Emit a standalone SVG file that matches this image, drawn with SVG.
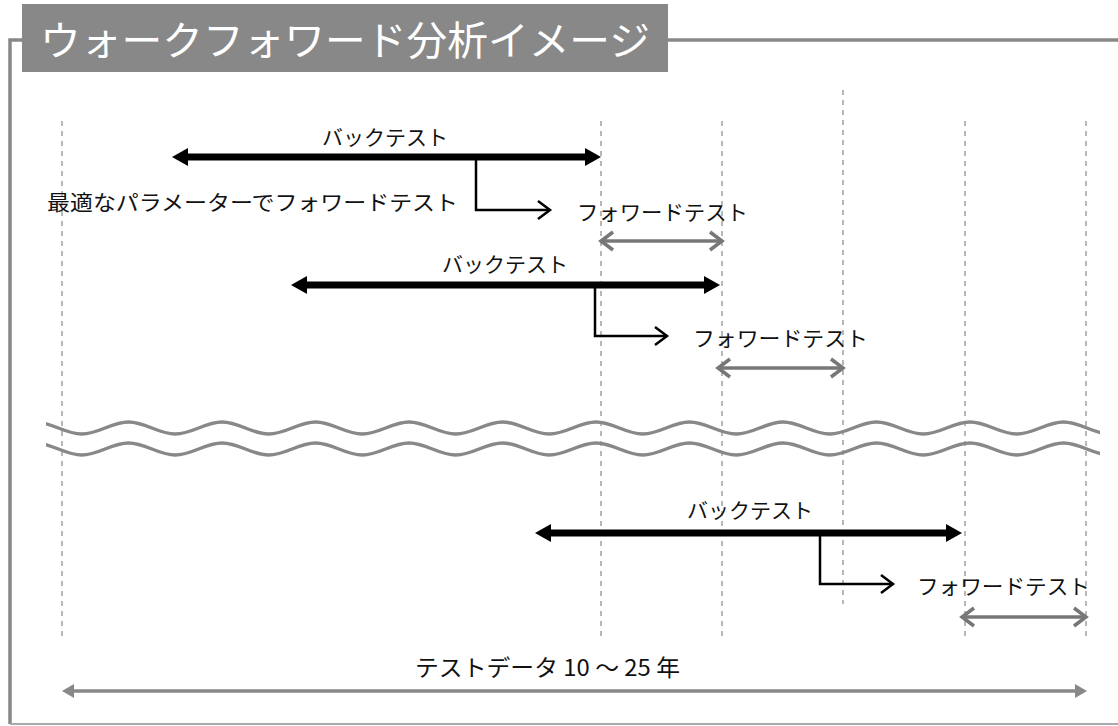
<svg xmlns="http://www.w3.org/2000/svg" width="1118" height="726" viewBox="0 0 1118 726">
<style>
.lbl{font-family:"Noto Sans CJK JP","Noto Sans",sans-serif;font-size:21px;fill:#111;}
.title{font-family:"Noto Sans CJK JP","Noto Sans",sans-serif;font-size:40px;fill:#fff;}
.grid{stroke:#a0a0a0;stroke-width:1.5;stroke-dasharray:5 5;fill:none;}
.bt{stroke:#000;stroke-width:7;fill:none;marker-start:url(#btHead);marker-end:url(#btHead);}
.fw{stroke:#777;stroke-width:3.5;fill:none;marker-start:url(#fwHead);marker-end:url(#fwHead);}
.elbow{stroke:#000;stroke-width:2.5;fill:none;marker-end:url(#elHead);}
.wave{stroke:#888;stroke-width:3.5;fill:none;}
.frame{stroke:#888;stroke-width:3.5;fill:none;}
</style>
<defs>
<marker id="btHead" markerUnits="userSpaceOnUse" markerWidth="16" markerHeight="18" refX="5" refY="9" orient="auto-start-reverse" overflow="visible">
<path d="M0,0 L16,9 L0,18 z" fill="#000"/>
</marker>
<marker id="fwHead" markerUnits="userSpaceOnUse" markerWidth="14" markerHeight="20" refX="12" refY="9" orient="auto-start-reverse" overflow="visible">
<path d="M0,0 L12,9 L0,18" fill="none" stroke="#777" stroke-width="3.5"/>
</marker>
<marker id="elHead" markerUnits="userSpaceOnUse" markerWidth="14" markerHeight="20" refX="12" refY="9" orient="auto" overflow="visible">
<path d="M0,0 L12,9 L0,18" fill="none" stroke="#000" stroke-width="2.5"/>
</marker>
<marker id="bigHead" markerUnits="userSpaceOnUse" markerWidth="12" markerHeight="14" refX="4" refY="7" orient="auto-start-reverse" overflow="visible">
<path d="M0,0 L12,7 L0,14 z" fill="#888"/>
</marker>
<clipPath id="waveClip"><rect x="46" y="400" width="1054" height="70"/></clipPath>
<path id="wavePath" d="M35,422 C52,422 64.75,434 81.75,434 S111.5,422 128.5,422 S158.25,434 175.25,434 S205,422 222,422 S251.75,434 268.75,434 S298.5,422 315.5,422 S345.25,434 362.25,434 S392,422 409,422 S438.75,434 455.75,434 S485.5,422 502.5,422 S532.25,434 549.25,434 S579,422 596,422 S625.75,434 642.75,434 S672.5,422 689.5,422 S719.25,434 736.25,434 S766,422 783,422 S812.75,434 829.75,434 S859.5,422 876.5,422 S906.25,434 923.25,434 S953,422 970,422 S999.75,434 1016.75,434 S1046.5,422 1063.5,422 S1093.25,434 1110.25,434"/>
</defs>

<g id="frame">
<path class="frame" d="M10,724 L10,40 L22,40"/>
<path class="frame" d="M668,40 L1118,40"/>
<line x1="10" y1="724" x2="1118" y2="724" stroke="#aaa" stroke-width="2"/>
</g>

<g id="title">
<rect x="22" y="4" width="646" height="68" fill="#888"/>
<text class="title" x="40" y="55" textLength="610" lengthAdjust="spacingAndGlyphs">ウォークフォワード分析イメージ</text>
</g>

<g id="grid">
<line class="grid" x1="62" y1="121" x2="62" y2="636"/>
<line class="grid" x1="601" y1="121" x2="601" y2="636"/>
<line class="grid" x1="722" y1="121" x2="722" y2="636"/>
<line class="grid" x1="843" y1="90" x2="843" y2="604"/>
<line class="grid" x1="965" y1="121" x2="965" y2="636"/>
<line class="grid" x1="1086" y1="121" x2="1086" y2="636"/>
</g>

<g id="waves" clip-path="url(#waveClip)">
<use href="#wavePath" class="wave"/>
<use href="#wavePath" class="wave" transform="translate(0,21)"/>
</g>

<g id="connectors">
<line class="bt" x1="183" y1="157" x2="590" y2="157"/>
<line class="bt" x1="302" y1="285" x2="709" y2="285"/>
<line class="bt" x1="546" y1="533" x2="951" y2="533"/>
<path class="elbow" d="M476,160 L476,210 L550,210"/>
<path class="elbow" d="M595,288 L595,336 L667,336"/>
<path class="elbow" d="M820,536 L820,584 L893,584"/>
<line class="fw" x1="601" y1="241" x2="722" y2="241"/>
<line class="fw" x1="718" y1="368" x2="843" y2="368"/>
<line class="fw" x1="962" y1="617" x2="1086" y2="617"/>
<line x1="70" y1="691" x2="1079" y2="691" stroke="#888" stroke-width="3.5" marker-start="url(#bigHead)" marker-end="url(#bigHead)"/>
</g>

<g id="labels">
<text class="lbl" x="385" y="145" text-anchor="middle" textLength="126" lengthAdjust="spacingAndGlyphs">バックテスト</text>
<text class="lbl" x="505" y="272" text-anchor="middle" textLength="126" lengthAdjust="spacingAndGlyphs">バックテスト</text>
<text class="lbl" x="750" y="518" text-anchor="middle" textLength="126" lengthAdjust="spacingAndGlyphs">バックテスト</text>
<text class="lbl" x="47" y="210" textLength="411" lengthAdjust="spacingAndGlyphs">最適なパラメーターでフォワードテスト</text>
<text class="lbl" x="577" y="220" textLength="171" lengthAdjust="spacingAndGlyphs">フォワードテスト</text>
<text class="lbl" x="693" y="346" textLength="175" lengthAdjust="spacingAndGlyphs">フォワードテスト</text>
<text class="lbl" x="917" y="594" textLength="173" lengthAdjust="spacingAndGlyphs">フォワードテスト</text>
<text class="lbl" x="415" y="676" style="font-size:23px" textLength="265" lengthAdjust="spacingAndGlyphs">テストデータ 10 ～ 25 年</text>
</g>
</svg>
